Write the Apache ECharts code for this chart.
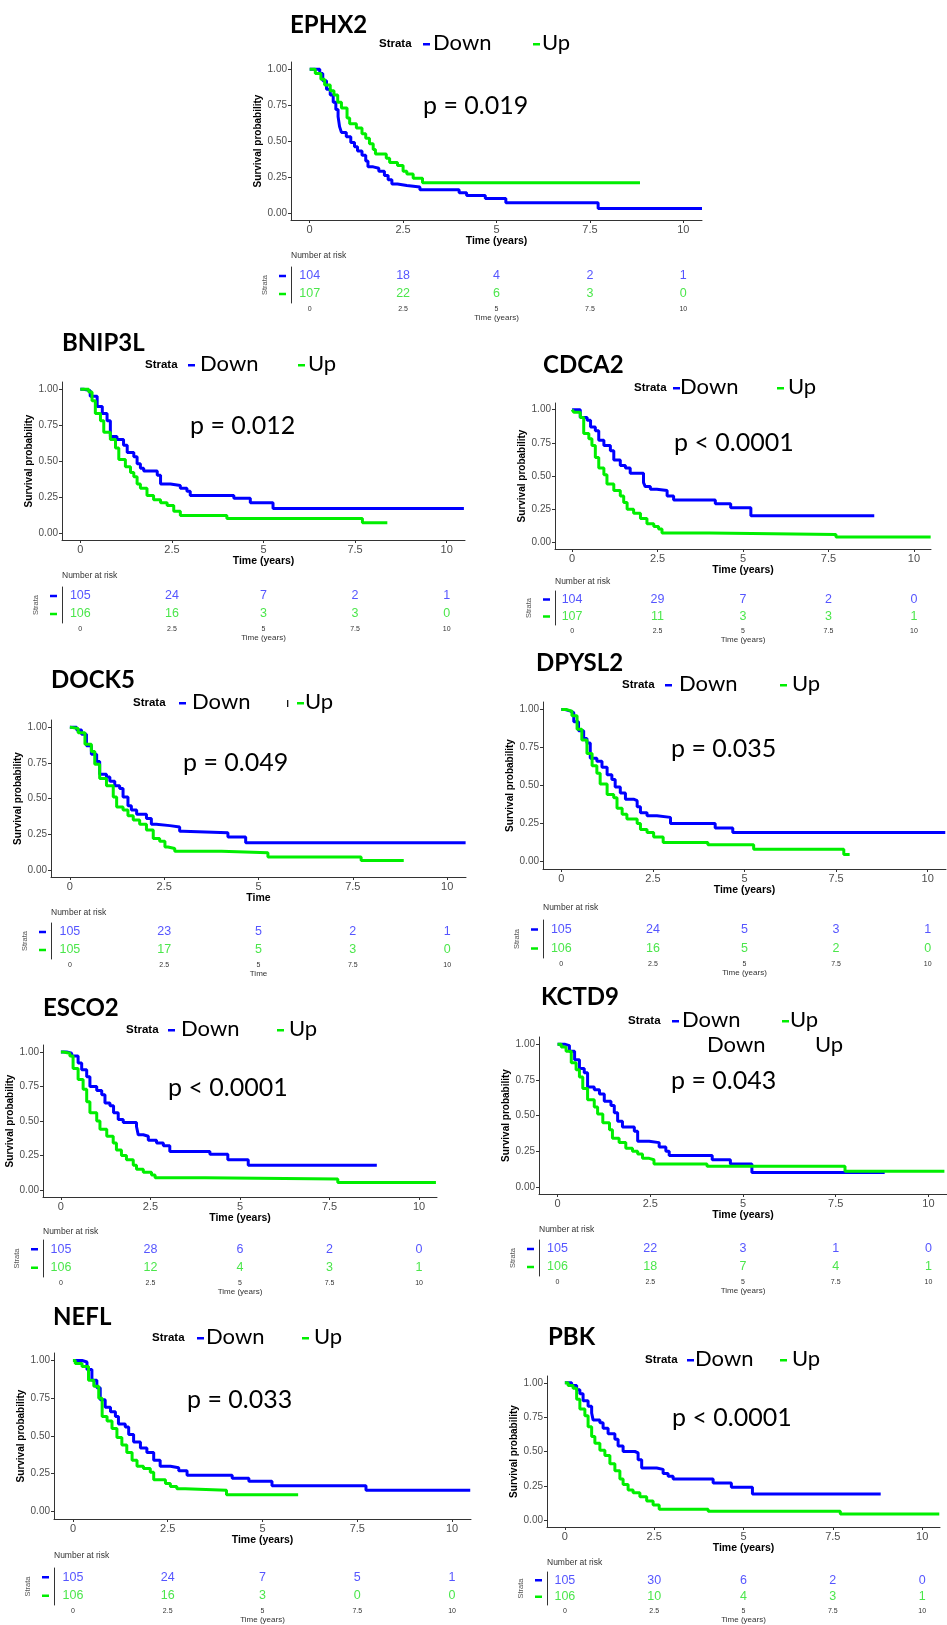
<!DOCTYPE html>
<html>
<head>
<meta charset="utf-8">
<script src="https://cdn.jsdelivr.net/npm/echarts@6/dist/echarts.min.js"></script>
<style>
  html, body { margin: 0; padding: 0; background: #fff; }
  #main { width: 947px; height: 1625px; }
</style>
</head>
<body>
<div id="main"></div>
<script>
// ---- data ----
var genes = ['EPHX2', 'BNIP3L', 'CDCA2', 'DOCK5', 'DPYSL2', 'ESCO2', 'KCTD9', 'NEFL', 'PBK']
var pTexts = ['p = 0.019', 'p = 0.012', 'p < 0.0001', 'p = 0.049', 'p = 0.035', 'p < 0.0001', 'p = 0.043', 'p = 0.033', 'p < 0.0001']
var timeNames = ['Time (years)', 'Time (years)', 'Time (years)', 'Time', 'Time (years)', 'Time (years)', 'Time (years)', 'Time (years)', 'Time (years)']
var timeTicks = [0, 2.5, 5, 7.5, 10]
var probTicks = [0, 0.25, 0.5, 0.75, 1]
var strata = ['Up', 'Down']

var riskDown = [
  [104, 18, 4, 2, 1], [105, 24, 7, 2, 1], [104, 29, 7, 2, 0],
  [105, 23, 5, 2, 1], [105, 24, 5, 3, 1], [105, 28, 6, 2, 0],
  [105, 22, 3, 1, 0], [105, 24, 7, 5, 1], [105, 30, 6, 2, 0]
]
var riskUp = [
  [107, 22, 6, 3, 0], [106, 16, 3, 3, 0], [107, 11, 3, 3, 1],
  [105, 17, 5, 3, 0], [106, 16, 5, 2, 0], [106, 12, 4, 3, 1],
  [106, 18, 7, 4, 1], [106, 16, 3, 0, 0], [106, 10, 4, 3, 1]
]

// survival curves: [time, survival after step]
var ephx2Down = [[0,1],[0.27,0.97],[0.35,0.92],[0.45,0.86],[0.55,0.82],[0.63,0.77],[0.7,0.72],[0.76,0.67],[0.8,0.6],[0.85,0.56],[0.98,0.53],[1.1,0.49],[1.2,0.46],[1.28,0.43],[1.4,0.4],[1.5,0.36],[1.56,0.32],[1.7,0.31],[1.85,0.29],[2.0,0.26],[2.1,0.23],[2.2,0.2],[2.35,0.19],[2.6,0.18],[2.95,0.16],[4.0,0.14],[4.2,0.12],[4.7,0.1],[5.25,0.07],[7.72,0.03],[10.5,0.03]]
var ephx2Up = [[0,1],[0.15,0.97],[0.3,0.93],[0.4,0.89],[0.55,0.85],[0.65,0.82],[0.75,0.77],[0.85,0.73],[1.0,0.66],[1.07,0.62],[1.25,0.59],[1.4,0.55],[1.5,0.52],[1.6,0.48],[1.7,0.44],[1.76,0.41],[2.05,0.38],[2.14,0.35],[2.35,0.33],[2.5,0.29],[2.6,0.27],[2.77,0.24],[3.02,0.21],[8.84,0.21]]
var bnip3lDown = [[0,1],[0.09,0.99],[0.27,0.95],[0.46,0.88],[0.6,0.83],[0.73,0.78],[0.82,0.67],[1.0,0.65],[1.18,0.61],[1.28,0.56],[1.46,0.53],[1.55,0.48],[1.64,0.45],[1.73,0.43],[2.1,0.4],[2.19,0.34],[2.46,0.33],[2.73,0.31],[2.91,0.29],[3.0,0.26],[4.19,0.24],[4.64,0.21],[5.26,0.17],[10.47,0.17]]
var bnip3lUp = [[0,1],[0.23,0.98],[0.32,0.92],[0.41,0.83],[0.55,0.78],[0.64,0.7],[0.82,0.65],[0.96,0.59],[1.05,0.51],[1.23,0.46],[1.37,0.42],[1.46,0.39],[1.55,0.34],[1.64,0.31],[1.82,0.26],[2.0,0.23],[2.19,0.21],[2.37,0.19],[2.55,0.15],[2.73,0.12],[4.0,0.1],[7.7,0.07],[8.38,0.07]]
var cdca2Down = [[0,1],[0.24,0.94],[0.44,0.92],[0.54,0.87],[0.68,0.84],[0.78,0.77],[0.93,0.73],[1.12,0.69],[1.22,0.62],[1.41,0.58],[1.56,0.56],[1.7,0.52],[2.09,0.45],[2.14,0.42],[2.29,0.4],[2.48,0.39],[2.78,0.35],[2.97,0.32],[4.19,0.29],[4.64,0.26],[5.23,0.2],[8.84,0.2]]
var cdca2Up = [[0,1],[0.05,0.98],[0.24,0.94],[0.34,0.82],[0.49,0.78],[0.58,0.73],[0.68,0.64],[0.78,0.56],[0.93,0.51],[1.02,0.44],[1.22,0.39],[1.41,0.35],[1.51,0.3],[1.61,0.25],[1.8,0.22],[2.0,0.18],[2.19,0.14],[2.39,0.12],[2.53,0.1],[2.63,0.07],[4.02,0.06],[7.72,0.04],[10.49,0.04]]
var dock5Down = [[0,1],[0.18,0.98],[0.31,0.95],[0.44,0.87],[0.57,0.81],[0.71,0.76],[0.79,0.67],[0.97,0.65],[1.06,0.62],[1.19,0.59],[1.32,0.57],[1.41,0.51],[1.54,0.45],[1.63,0.42],[1.77,0.39],[2.03,0.36],[2.16,0.32],[2.29,0.31],[2.65,0.3],[2.91,0.27],[3.0,0.26],[4.19,0.23],[4.66,0.19],[10.49,0.19]]
var dock5Up = [[0,1],[0.04,0.99],[0.22,0.96],[0.4,0.88],[0.57,0.83],[0.66,0.74],[0.79,0.64],[0.97,0.59],[1.15,0.51],[1.24,0.44],[1.41,0.42],[1.54,0.38],[1.68,0.35],[1.85,0.32],[2.03,0.28],[2.21,0.22],[2.38,0.2],[2.52,0.16],[2.6,0.15],[2.78,0.13],[4.02,0.12],[5.25,0.09],[7.72,0.065],[8.85,0.065]]
var dpysl2Down = [[0,1],[0.11,0.99],[0.25,0.98],[0.34,0.92],[0.47,0.86],[0.61,0.81],[0.7,0.78],[0.79,0.68],[0.97,0.66],[1.11,0.62],[1.25,0.57],[1.38,0.54],[1.47,0.49],[1.61,0.45],[1.75,0.41],[1.97,0.4],[2.07,0.36],[2.16,0.32],[2.34,0.3],[2.61,0.29],[2.98,0.25],[4.2,0.22],[4.68,0.19],[10.48,0.19]]
var dpysl2Up = [[0,1],[0.15,0.99],[0.29,0.96],[0.43,0.87],[0.56,0.8],[0.7,0.71],[0.84,0.63],[0.97,0.58],[1.06,0.51],[1.25,0.44],[1.43,0.42],[1.52,0.35],[1.66,0.31],[1.79,0.28],[2.07,0.25],[2.16,0.21],[2.34,0.19],[2.52,0.16],[2.78,0.125],[4.0,0.11],[5.25,0.08],[7.71,0.045],[7.87,0.045]]
var esco2Down = [[0,1],[0.16,0.99],[0.3,0.97],[0.48,0.92],[0.58,0.87],[0.72,0.82],[0.81,0.75],[1.0,0.72],[1.14,0.69],[1.23,0.63],[1.37,0.61],[1.47,0.56],[1.6,0.51],[1.74,0.49],[2.11,0.46],[2.16,0.4],[2.3,0.39],[2.44,0.36],[2.67,0.34],[2.86,0.32],[3.04,0.28],[4.16,0.26],[4.66,0.22],[5.23,0.18],[8.82,0.18]]
var esco2Up = [[0,1],[0.07,0.99],[0.25,0.97],[0.34,0.88],[0.48,0.8],[0.62,0.73],[0.72,0.64],[0.81,0.56],[1.0,0.5],[1.09,0.44],[1.28,0.39],[1.46,0.34],[1.55,0.29],[1.69,0.25],[1.83,0.22],[2.02,0.18],[2.11,0.15],[2.3,0.13],[2.53,0.11],[2.63,0.09],[4.02,0.08],[7.73,0.055],[10.47,0.055]]
var kctd9Down = [[0,1],[0.19,0.99],[0.32,0.95],[0.46,0.89],[0.59,0.83],[0.72,0.8],[0.81,0.7],[0.99,0.68],[1.13,0.65],[1.26,0.6],[1.44,0.57],[1.53,0.52],[1.62,0.46],[1.75,0.42],[2.07,0.39],[2.16,0.32],[2.47,0.31],[2.74,0.28],[2.92,0.25],[3.01,0.22],[4.17,0.19],[4.66,0.16],[5.24,0.1],[8.82,0.1]]
var kctd9Up = [[0,1],[0.1,0.98],[0.23,0.95],[0.37,0.87],[0.5,0.82],[0.59,0.77],[0.68,0.69],[0.81,0.61],[0.99,0.56],[1.08,0.51],[1.22,0.45],[1.4,0.4],[1.48,0.34],[1.66,0.31],[1.84,0.27],[2.02,0.25],[2.16,0.23],[2.29,0.2],[2.47,0.19],[2.6,0.16],[4.03,0.145],[7.75,0.11],[10.43,0.11]]
var neflDown = [[0,1],[0.24,0.99],[0.37,0.94],[0.5,0.87],[0.63,0.82],[0.72,0.74],[0.85,0.69],[0.99,0.66],[1.12,0.63],[1.2,0.58],[1.38,0.56],[1.47,0.51],[1.6,0.46],[1.78,0.42],[1.95,0.39],[2.13,0.34],[2.3,0.3],[2.57,0.29],[2.79,0.27],[3.01,0.24],[4.2,0.22],[4.64,0.2],[5.25,0.17],[7.73,0.14],[10.48,0.14]]
var neflUp = [[0,1],[0.06,0.98],[0.24,0.96],[0.41,0.87],[0.55,0.83],[0.68,0.75],[0.77,0.63],[0.9,0.6],[1.03,0.55],[1.16,0.49],[1.29,0.44],[1.42,0.39],[1.56,0.34],[1.69,0.3],[1.86,0.285],[2.04,0.26],[2.13,0.21],[2.44,0.185],[2.57,0.165],[2.74,0.15],[2.96,0.14],[4.05,0.11],[5.94,0.11]]
var pbkDown = [[0,1],[0.19,0.98],[0.33,0.95],[0.42,0.92],[0.51,0.87],[0.65,0.83],[0.75,0.78],[0.79,0.73],[0.98,0.71],[1.07,0.67],[1.21,0.63],[1.4,0.59],[1.49,0.54],[1.63,0.5],[1.96,0.49],[2.05,0.44],[2.15,0.38],[2.57,0.37],[2.75,0.34],[2.89,0.32],[3.03,0.3],[4.15,0.27],[4.66,0.24],[5.25,0.19],[8.84,0.19]]
var pbkUp = [[0,1],[0.09,0.98],[0.23,0.96],[0.33,0.88],[0.42,0.81],[0.56,0.76],[0.65,0.68],[0.75,0.61],[0.84,0.56],[0.98,0.51],[1.12,0.47],[1.26,0.41],[1.4,0.36],[1.54,0.3],[1.63,0.26],[1.77,0.22],[1.91,0.2],[2.1,0.17],[2.29,0.14],[2.47,0.11],[2.64,0.08],[4.01,0.065],[7.71,0.045],[10.48,0.045]]

var survDown = [ephx2Down, bnip3lDown, cdca2Down, dock5Down, dpysl2Down, esco2Down, kctd9Down, neflDown, pbkDown]
var survUp = [ephx2Up, bnip3lUp, cdca2Up, dock5Up, dpysl2Up, esco2Up, kctd9Up, neflUp, pbkUp]

// ---- layout of each panel (pixels) ----
// plot grid L,T,W,H ; risk table top/height ; title, p-value, legend, "Number at risk" positions
var layout = [
  { L: 291, W: 411, T: 62, H: 158, rT: 267, rH: 36, tx: 290, ty: 25, px: 423, py: 106, ly: 43, st: 379, dd: 423, dt: 433, ud: 533, ut: 542, ny: 256 },
  { L: 62, W: 403, T: 382, H: 158, rT: 587, rH: 36, tx: 62, ty: 343, px: 190, py: 426, ly: 364, st: 145, dd: 188, dt: 200, ud: 298, ut: 308, ny: 576 },
  { L: 555, W: 376, T: 403, H: 146, rT: 591, rH: 34, tx: 543, ty: 365, px: 674, py: 443, ly: 387, st: 634, dd: 673, dt: 680, ud: 777, ut: 788, ny: 582 },
  { L: 51, W: 415, T: 720, H: 157, rT: 923, rH: 36, tx: 51, ty: 680, px: 183, py: 763, ly: 702, st: 133, dd: 179, dt: 192, ud: 297, ut: 305, ny: 913 },
  { L: 543, W: 403, T: 702, H: 167, rT: 920, rH: 38, tx: 536, ty: 663, px: 671, py: 749, ly: 684, st: 622, dd: 665, dt: 679, ud: 780, ut: 792, ny: 908 },
  { L: 43, W: 394, T: 1045, H: 152, rT: 1240, rH: 37, tx: 43, ty: 1008, px: 168, py: 1088, ly: 1029, st: 126, dd: 168, dt: 181, ud: 277, ut: 289, ny: 1232 },
  { L: 539, W: 410, T: 1037, H: 157, rT: 1240, rH: 36, tx: 541, ty: 997, px: 671, py: 1081, ly: 1020, st: 628, dd: 672, dt: 682, ud: 782, ut: 790, ny: 1230 },
  { L: 54, W: 417, T: 1353, H: 166, rT: 1568, rH: 38, tx: 53, ty: 1317, px: 187, py: 1400, ly: 1337, st: 152, dd: 197, dt: 206, ud: 302, ut: 314, ny: 1556 },
  { L: 547, W: 393, T: 1376, H: 151, rT: 1572, rH: 36, tx: 548, ty: 1337, px: 672, py: 1418, ly: 1359, st: 645, dd: 687, dt: 695, ud: 780, ut: 792, ny: 1563 }
]

var BLUE = '#0000ff'
var GREEN = '#00ee00'
var RISK_BLUE = '#2a2aff'
var RISK_GREEN = '#1ee01e'

var grids = [], xAxes = [], yAxes = [], series = [], graphics = []

genes.forEach(function (gene, i) {
  var p = layout[i]
  // survival plot
  grids.push({ left: p.L, top: p.T, width: p.W, height: p.H })
  xAxes.push({
    type: 'value', gridIndex: 2 * i, min: -0.5, max: 10.5,
    splitLine: { show: false },
    axisLine: { onZero: false, lineStyle: { color: '#333', width: 1 } },
    axisTick: { customValues: timeTicks, length: 3, lineStyle: { color: '#333' } },
    axisLabel: { customValues: timeTicks, fontSize: 11, color: '#4d4d4d', margin: 4, fontFamily: 'Liberation Sans' },
    name: timeNames[i], nameLocation: 'middle', nameGap: 16,
    nameTextStyle: { fontSize: 10.5, fontWeight: 'bold', color: '#000', fontFamily: 'Liberation Sans' }
  })
  yAxes.push({
    type: 'value', gridIndex: 2 * i, min: -0.05, max: 1.05,
    splitLine: { show: false },
    axisLine: { show: true, onZero: false, lineStyle: { color: '#333', width: 1 } },
    axisTick: { show: true, customValues: probTicks, length: 3, lineStyle: { color: '#333' } },
    axisLabel: { customValues: probTicks, fontSize: 10, color: '#4d4d4d', margin: 4, fontFamily: 'Liberation Sans',
      formatter: function (v) { return v.toFixed(2) } },
    name: 'Survival probability', nameLocation: 'middle', nameGap: 28,
    nameTextStyle: { fontSize: 10, fontWeight: 'bold', color: '#000', fontFamily: 'Liberation Sans' }
  })
  // risk table
  grids.push({ left: p.L, top: p.rT, width: p.W, height: p.rH })
  xAxes.push({
    type: 'value', gridIndex: 2 * i + 1, min: -0.5, max: 10.5,
    splitLine: { show: false },
    axisLine: { onZero: false, lineStyle: { color: '#333', width: 1 } },
    axisTick: { customValues: timeTicks, length: 2, lineStyle: { color: '#333' } },
    axisLabel: { customValues: timeTicks, fontSize: 7, color: '#333', margin: 3, fontFamily: 'Liberation Sans' },
    name: timeNames[i], nameLocation: 'middle', nameGap: 11,
    nameTextStyle: { fontSize: 8, color: '#333', fontFamily: 'Liberation Sans' }
  })
  yAxes.push({
    type: 'category', gridIndex: 2 * i + 1, data: strata,
    axisLine: { show: true, onZero: false, lineStyle: { color: '#333', width: 1 } },
    axisTick: { show: false },
    axisLabel: {
      margin: 5,
      formatter: function (v) { return v === 'Down' ? '{d| }' : '{u| }' },
      rich: {
        d: { backgroundColor: BLUE, width: 7, height: 2.5 },
        u: { backgroundColor: GREEN, width: 7, height: 2.5 }
      }
    },
    name: 'Strata', nameLocation: 'middle', nameGap: 22,
    nameTextStyle: { fontSize: 7.5, color: '#555', fontFamily: 'Liberation Sans' }
  })

  series.push({
    type: 'line', xAxisIndex: 2 * i, yAxisIndex: 2 * i, data: survDown[i],
    step: 'end', showSymbol: false, silent: true,
    lineStyle: { color: BLUE, width: 3 }, itemStyle: { color: BLUE }
  })
  series.push({
    type: 'line', xAxisIndex: 2 * i, yAxisIndex: 2 * i, data: survUp[i],
    step: 'end', showSymbol: false, silent: true,
    lineStyle: { color: GREEN, width: 3 }, itemStyle: { color: GREEN }
  })
  var riskLabel = function (c) {
    return { show: true, position: 'inside', fontSize: 12.5, color: c, fontFamily: 'Liberation Sans',
      formatter: function (d) { return String(d.value[2]) } }
  }
  series.push({
    type: 'scatter', xAxisIndex: 2 * i + 1, yAxisIndex: 2 * i + 1, symbolSize: 1, silent: true,
    itemStyle: { color: 'rgba(0,0,0,0)' }, label: riskLabel(RISK_BLUE),
    data: timeTicks.map(function (t, k) { return [t, 'Down', riskDown[i][k]] })
  })
  series.push({
    type: 'scatter', xAxisIndex: 2 * i + 1, yAxisIndex: 2 * i + 1, symbolSize: 1, silent: true,
    itemStyle: { color: 'rgba(0,0,0,0)' }, label: riskLabel(RISK_GREEN),
    data: timeTicks.map(function (t, k) { return [t, 'Up', riskUp[i][k]] })
  })

  // texts: gene title, legend, p value, "Number at risk"
  graphics.push({ type: 'text', x: p.tx, y: p.ty, style: { text: gene, font: 'bold 24px Lato', fill: '#000', verticalAlign: 'middle' } })
  graphics.push({ type: 'text', x: p.st, y: p.ly + 1, style: { text: 'Strata', font: 'bold 11.5px "Liberation Sans"', fill: '#000', verticalAlign: 'middle' } })
  graphics.push({ type: 'rect', shape: { x: p.dd, y: p.ly, width: 7, height: 2.5 }, style: { fill: BLUE } })
  graphics.push({ type: 'text', x: p.dt, y: p.ly, style: { text: 'Down', font: '22px Lato', fill: '#000', verticalAlign: 'middle' } })
  graphics.push({ type: 'rect', shape: { x: p.ud, y: p.ly, width: 7, height: 2.5 }, style: { fill: GREEN } })
  graphics.push({ type: 'text', x: p.ut, y: p.ly, style: { text: 'Up', font: '22px Lato', fill: '#000', verticalAlign: 'middle' } })
  graphics.push({ type: 'text', x: p.px, y: p.py, style: { text: pTexts[i], font: '25px Lato', fill: '#000', verticalAlign: 'middle' } })
  graphics.push({ type: 'text', x: p.L, y: p.ny, style: { text: 'Number at risk', font: '8.5px "Liberation Sans"', fill: '#333', verticalAlign: 'middle' } })
})

// stray marks kept from the original figure
graphics.push({ type: 'text', x: 286, y: 702, style: { text: 'ı', font: '14px Lato', fill: '#000', verticalAlign: 'middle' } })
graphics.push({ type: 'text', x: 707, y: 1045, style: { text: 'Down', font: '22px Lato', fill: '#000', verticalAlign: 'middle' } })
graphics.push({ type: 'text', x: 815, y: 1045, style: { text: 'Up', font: '22px Lato', fill: '#000', verticalAlign: 'middle' } })

var myChart = echarts.init(document.getElementById('main'))
myChart.setOption({
  animation: false,
  backgroundColor: '#fff',
  grid: grids,
  xAxis: xAxes,
  yAxis: yAxes,
  series: series,
  graphic: { elements: graphics }
})
</script>
</body>
</html>
